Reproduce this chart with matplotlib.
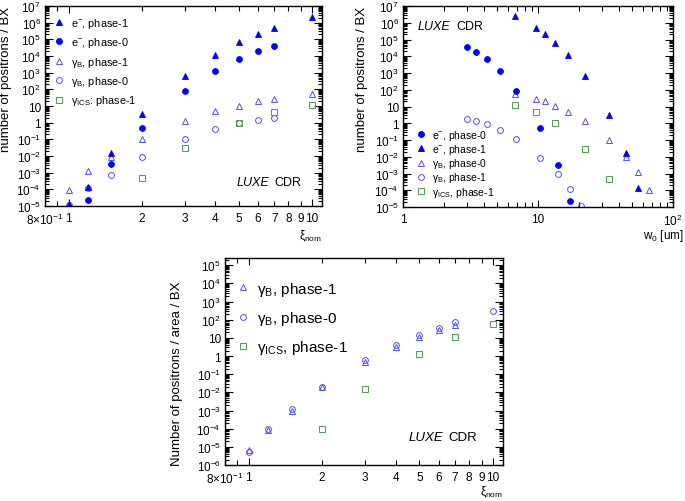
import numpy as np
import matplotlib
matplotlib.use("Agg")
import matplotlib.pyplot as plt
from matplotlib.ticker import FixedLocator, FuncFormatter, LogLocator, NullFormatter
from matplotlib.lines import Line2D

plt.rcParams['font.family'] = ['Liberation Sans', 'DejaVu Sans']
plt.rcParams['mathtext.fontset'] = 'custom'
plt.rcParams['mathtext.rm'] = 'Liberation Sans'
plt.rcParams['mathtext.it'] = 'Liberation Sans:italic'
plt.rcParams['mathtext.bf'] = 'Liberation Sans:bold'

# ---- top left: vs xi_nom ----
xi_all = [1, 1.2, 1.5, 2, 3, 4, 5, 6, 7, 10]
xi_e0 = [1.2, 1.5, 2, 3, 4, 5, 6, 7]
xi_gb0 = [1, 1.2, 1.5, 2, 3, 4, 5, 6, 7]
xi_ics = [2, 3, 5, 7, 10]

tl_e1 = [1.4e-5, 1.3e-4, 1.6e-2, 3.2, 650, 1.1e4, 6.5e4, 2.0e5, 4.6e5, 2.3e6]
tl_e0 = [2.2e-5, 3.1e-3, 0.5, 80, 1.25e3, 6.5e3, 1.9e4, 3.8e4]
tl_gb1 = [9e-5, 1.2e-3, 9e-3, 0.1, 1.3, 5.0, 10.5, 20, 28, 56]
tl_gb0 = [1.15e-5, 1.2e-4, 7.5e-4, 8.5e-3, 0.11, 0.4, 0.9, 1.4, 1.9]
tl_ics = [4.5e-4, 0.03, 0.95, 4.2, 11.5]

# ---- top right: vs w0 ----
w_e0 = [2.96, 3.47, 4.19, 5.2, 6.9, 10.4, 14.0, 17.2]
tr_e0 = [3.8e4, 1.9e4, 6.5e3, 1.25e3, 80, 0.5, 3.3e-3, 2.3e-5]
w_e1 = [6.7, 9.6, 11.2, 13.3, 16.6, 22.3, 33.3, 44.6, 55.0]
tr_e1 = [2.4e6, 5.0e5, 2.0e5, 6.5e4, 1.2e4, 700, 3.3, 1.7e-2, 1.3e-4]
w_gb0 = [6.7, 9.6, 11.2, 13.3, 16.6, 22.3, 33.3, 44.6, 55.0, 66.0]
tr_gb0 = [56, 28, 20, 10.5, 5.0, 1.3, 0.1, 1.0e-2, 1.3e-3, 1.0e-4]
w_gb1 = [2.96, 3.47, 4.19, 5.2, 6.9, 10.4, 14.0, 17.2, 20.8]
tr_gb1 = [1.9, 1.4, 0.9, 0.4, 0.11, 9e-3, 9e-4, 1.2e-4, 1.2e-5]
w_ics = [6.7, 9.6, 13.3, 22.3, 33.3]
tr_ics = [12, 4.5, 1.0, 0.03, 5e-4]

# ---- bottom: per area vs xi_nom ----
bt_xi_tri = [1, 1.2, 1.5, 2, 3, 4, 5, 6, 7]
bt_tri = [7e-6, 9e-5, 1.0e-3, 0.019, 0.5, 3.2, 11, 26, 50]
bt_xi_circ = [1, 1.2, 1.5, 2, 3, 4, 5, 6, 7, 10]
bt_circ = [5.5e-6, 1.0e-4, 1.15e-3, 0.02, 0.62, 4.3, 15, 37, 75, 290]
bt_xi_ics = [2, 3, 5, 7, 10]
bt_ics = [1e-4, 0.015, 1.3, 11, 58]

BLUE = '#0000ff'
LBLUE = '#5050ff'
GREEN = '#4f9a4f'

W, H = 685, 502
fig = plt.figure(figsize=(W / 100, H / 100), dpi=100)


def px_axes(left, top, right, bottom):
    return fig.add_axes([left / W, 1 - bottom / H, (right - left) / W, (bottom - top) / H])


def pow_fmt(v, pos):
    e = int(round(np.log10(v)))
    if e == 0:
        return '1'
    if e == 1:
        return '10'
    return '10$^{%d}$' % e


def style_axes(ax):
    for s in ax.spines.values():
        s.set_linewidth(1.0)
    ax.yaxis.set_major_locator(LogLocator(base=10, numticks=30))
    ax.yaxis.set_minor_locator(LogLocator(base=10, subs=np.arange(2, 10), numticks=200))
    ax.yaxis.set_major_formatter(FuncFormatter(pow_fmt))
    ax.yaxis.set_minor_formatter(NullFormatter())
    ax.tick_params(which='both', direction='in', top=True, right=True, labelsize=8.5, width=0.8)
    ax.tick_params(axis='y', which='major', length=6, pad=3)
    ax.tick_params(axis='y', which='minor', length=3)
    ax.tick_params(axis='x', which='major', length=5, pad=4)
    ax.tick_params(axis='x', which='minor', length=3.5, pad=4)


def xi_axis(ax):
    ax.set_xscale('log')
    ax.set_xlim(0.8, 11)
    ax.xaxis.set_major_locator(FixedLocator([1, 10]))
    ax.xaxis.set_major_formatter(FuncFormatter(lambda v, p: '%d' % round(v)))
    minors = [0.8, 0.9, 2, 3, 4, 5, 6, 7, 8, 9]
    labs = {0.8: '8$\\times$10$^{-1}$', 0.9: ''}
    ax.xaxis.set_minor_locator(FixedLocator(minors))
    ax.xaxis.set_minor_formatter(FuncFormatter(
        lambda v, p: labs.get(round(v, 1), '%d' % round(v))))


def mk(ax, x, y, m, filled, color, ms=4.2):
    if filled:
        ax.plot(x, y, ls='none', marker=m, ms=ms, mfc=color, mec=color, mew=0.6)
    else:
        ax.plot(x, y, ls='none', marker=m, ms=ms, mfc='none', mec=color, mew=0.7)


def handle(m, filled, color, ms=4.2):
    return Line2D([], [], ls='none', marker=m, ms=ms,
                  mfc=color if filled else 'none', mec=color, mew=0.7)


def luxe(ax, x, y, size):
    t = ax.text(x, y, 'LUXE', style='italic', fontsize=size, transform=ax.transAxes,
                va='center')
    ax.annotate('CDR', xy=(1, 0.5), xycoords=t, xytext=(4, 0), textcoords='offset points',
                fontsize=size, va='center')


# top left
ax1 = px_axes(45, 7, 322, 207)
mk(ax1, xi_all, tl_gb1, '^', False, LBLUE)
mk(ax1, xi_gb0, tl_gb0, 'o', False, LBLUE)
mk(ax1, xi_ics, tl_ics, 's', False, GREEN)
mk(ax1, xi_e0, tl_e0, 'o', True, BLUE)
mk(ax1, xi_all, tl_e1, '^', True, BLUE)
ax1.set_yscale('log')
ax1.set_ylim(1e-5, 1e7)
xi_axis(ax1)
style_axes(ax1)
ax1.set_ylabel('number of positrons / BX', fontsize=9.5, loc='top')
ax1.yaxis.set_label_coords(-0.118, 1.0)
ax1.set_xlabel('ξ$_{\\rm nom}$', fontsize=8.5, loc='right')
ax1.xaxis.set_label_coords(1.0, -0.11)
ax1.legend(handles=[handle('^', True, BLUE), handle('o', True, BLUE),
                    handle('^', False, LBLUE), handle('o', False, LBLUE),
                    handle('s', False, GREEN)],
           labels=['e$^{-}$, phase-1', 'e$^{-}$, phase-0', 'γ$_{\\rm B}$, phase-1',
                   'γ$_{\\rm B}$, phase-0', 'γ$_{\\rm ICS}$: phase-1'],
           loc='upper left', bbox_to_anchor=(0.0, 0.995), frameon=False, fontsize=7.8,
           handlelength=1.0, handletextpad=0.6, labelspacing=0.5, borderpad=0.3)
luxe(ax1, 0.69, 0.12, 9)

# top right
ax2 = px_axes(403, 7, 673, 208)
mk(ax2, w_gb0, tr_gb0, '^', False, LBLUE)
mk(ax2, w_gb1, tr_gb1, 'o', False, LBLUE)
mk(ax2, w_ics, tr_ics, 's', False, GREEN)
mk(ax2, w_e0, tr_e0, 'o', True, BLUE)
mk(ax2, w_e1, tr_e1, '^', True, BLUE)
ax2.set_yscale('log')
ax2.set_ylim(1e-5, 1e7)
ax2.set_xscale('log')
ax2.set_xlim(1, 100)
ax2.xaxis.set_major_locator(LogLocator(base=10, numticks=10))
ax2.xaxis.set_major_formatter(FuncFormatter(pow_fmt))
ax2.xaxis.set_minor_locator(LogLocator(base=10, subs=np.arange(2, 10), numticks=50))
ax2.xaxis.set_minor_formatter(NullFormatter())
style_axes(ax2)
ax2.set_ylabel('number of positrons / BX', fontsize=9.5, loc='top')
ax2.yaxis.set_label_coords(-0.13, 1.0)
ax2.set_xlabel('w$_{0}$ [um]', fontsize=8.5, loc='right')
ax2.xaxis.set_label_coords(1.04, -0.1)
ax2.legend(handles=[handle('o', True, BLUE), handle('^', True, BLUE),
                    handle('^', False, LBLUE), handle('o', False, LBLUE),
                    handle('s', False, GREEN)],
           labels=['e$^{-}$, phase-0', 'e$^{-}$, phase-1', 'γ$_{\\rm B}$, phase-0',
                   'γ$_{\\rm B}$, phase-1', 'γ$_{\\rm ICS}$, phase-1'],
           loc='lower left', bbox_to_anchor=(0.02, 0.005), frameon=False, fontsize=7.5,
           handlelength=1.0, handletextpad=0.6, labelspacing=0.02, borderpad=0.2)
luxe(ax2, 0.055, 0.9, 9)

# bottom
ax3 = px_axes(225, 259, 503, 466)
mk(ax3, bt_xi_tri, bt_tri, '^', False, LBLUE)
mk(ax3, bt_xi_circ, bt_circ, 'o', False, LBLUE)
mk(ax3, bt_xi_ics, bt_ics, 's', False, GREEN)
ax3.set_yscale('log')
ax3.set_ylim(1e-6, 2.5e5)
xi_axis(ax3)
style_axes(ax3)
ax3.set_ylabel('Number of positrons / area / BX', fontsize=9.5, loc='top')
ax3.yaxis.set_label_coords(-0.15, 0.89)
ax3.set_xlabel('ξ$_{\\rm nom}$', fontsize=8.5, loc='right')
ax3.xaxis.set_label_coords(1.0, -0.09)
ax3.legend(handles=[handle('^', False, LBLUE), handle('o', False, LBLUE),
                    handle('s', False, GREEN)],
           labels=['γ$_{\\rm B}$, phase-1', 'γ$_{\\rm B}$, phase-0', 'γ$_{\\rm ICS}$, phase-1'],
           loc='upper left', bbox_to_anchor=(0.0, 0.955), frameon=False, fontsize=11,
           handlelength=0.8, handletextpad=0.5, labelspacing=0.75, borderpad=0.3)
luxe(ax3, 0.66, 0.135, 9.5)

fig.savefig('out.png', dpi=100)
